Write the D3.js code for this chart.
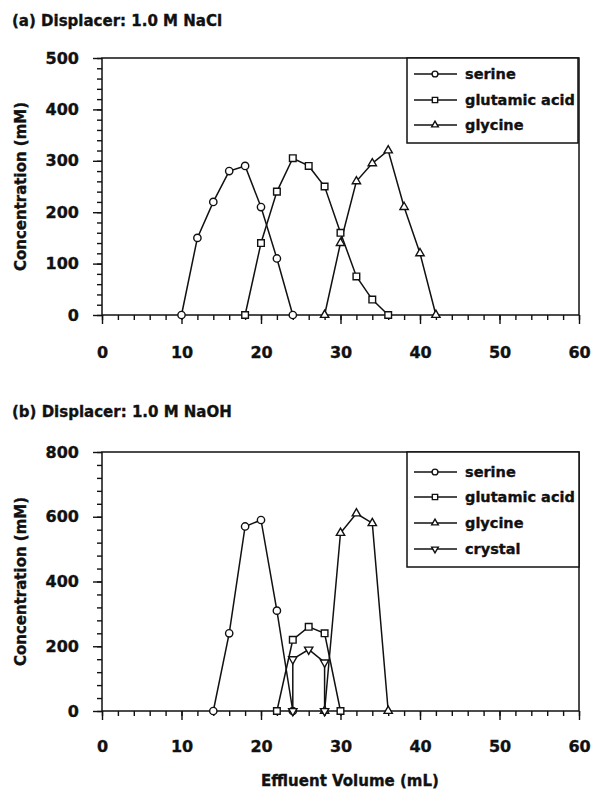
<!DOCTYPE html>
<html>
<head>
<meta charset="utf-8">
<script src="https://cdn.jsdelivr.net/npm/d3@7"></script>
<style>
  body { margin: 0; background: #fff; }
  svg text { font-family: "DejaVu Sans", sans-serif; font-weight: bold; fill: #111; stroke: #111; stroke-width: 0.35px; }
</style>
</head>
<body>
<svg id="chart" width="591" height="789"></svg>
<script>
// Effluent volume ticks (mL)
const volumeTicks = [0, 10, 20, 30, 40, 50, 60];
const concTicksA = [0, 100, 200, 300, 400, 500];
const concTicksB = [0, 200, 400, 600, 800];

// (a) Displacer: 1.0 M NaCl
const serineA_vol = [10, 12, 14, 16, 18, 20, 22, 24];
const serineA_conc = [0, 150, 220, 280, 290, 210, 110, 0];
const glutamicA_vol = [18, 20, 22, 24, 26, 28, 30, 32, 34, 36];
const glutamicA_conc = [0, 140, 240, 305, 290, 250, 160, 75, 30, 0];
const glycineA_vol = [28, 30, 32, 34, 36, 38, 40, 42];
const glycineA_conc = [0, 140, 260, 295, 320, 210, 120, 0];

// (b) Displacer: 1.0 M NaOH
const serineB_vol = [14, 16, 18, 20, 22, 24];
const serineB_conc = [0, 240, 570, 590, 310, 0];
const glutamicB_vol = [22, 24, 26, 28, 30];
const glutamicB_conc = [0, 220, 260, 240, 0];
const glycineB_vol = [28, 30, 32, 34, 36];
const glycineB_conc = [0, 550, 610, 580, 0];
const crystalB_vol = [24, 24, 26, 28, 28];
const crystalB_conc = [0, 160, 190, 150, 0];

const seriesNames = ["serine", "glutamic acid", "glycine", "crystal"];

const svg = d3.select("#chart");
const ink = "#111";

const markerPath = {
  circle: d3.symbol().type(d3.symbolCircle).size(42)(),
  square: d3.symbol().type(d3.symbolSquare).size(44)(),
  triangle: d3.symbol().type(d3.symbolTriangle).size(30)(),
  down: d3.symbol().type(d3.symbolTriangle).size(30)()
};
function drawMarker(g, kind, x, y, scale = 1) {
  g.append("path")
    .attr("d", markerPath[kind])
    .attr("transform", `translate(${x},${y}) scale(${scale})` + (kind === "down" ? " rotate(180)" : ""))
    .attr("fill", "#fff").attr("stroke", ink).attr("stroke-width", 1.4 / scale);
}

const zip = (xs, ys) => xs.map((v, i) => [v, ys[i]]);

const panels = [
  {
    title: "(a) Displacer: 1.0 M NaCl", titleY: 26,
    top: 58, bottom: 315, yMax: 500, yTicks: concTicksA, yMinorStep: 20,
    xLabelY: 358,
    series: [
      { name: seriesNames[0], kind: "circle", pts: zip(serineA_vol, serineA_conc) },
      { name: seriesNames[1], kind: "square", pts: zip(glutamicA_vol, glutamicA_conc) },
      { name: seriesNames[2], kind: "triangle", pts: zip(glycineA_vol, glycineA_conc) }
    ],
    legend: { x: 407, y: 58, w: 171, h: 85, rows: [74, 100, 125] }
  },
  {
    title: "(b) Displacer: 1.0 M NaOH", titleY: 417,
    top: 452, bottom: 711, yMax: 800, yTicks: concTicksB, yMinorStep: 40,
    xLabelY: 752,
    series: [
      { name: seriesNames[0], kind: "circle", pts: zip(serineB_vol, serineB_conc) },
      { name: seriesNames[1], kind: "square", pts: zip(glutamicB_vol, glutamicB_conc) },
      { name: seriesNames[2], kind: "triangle", pts: zip(glycineB_vol, glycineB_conc) },
      { name: seriesNames[3], kind: "down", pts: zip(crystalB_vol, crystalB_conc) }
    ],
    legend: { x: 407, y: 452, w: 172, h: 115, rows: [472, 497, 523, 549] }
  }
];

const left = 102, right = 579;
const x = d3.scaleLinear().domain([0, 60]).range([left, right]);

panels.forEach(p => {
  const y = d3.scaleLinear().domain([0, p.yMax]).range([p.bottom, p.top]);
  const g = svg.append("g");

  // panel title
  g.append("text").attr("x", 12).attr("y", p.titleY)
    .attr("font-size", 15).text(p.title);

  // minor ticks
  const xMinor = d3.axisBottom(x).tickValues(d3.range(0, 61, 2)).tickSize(5).tickFormat("");
  const yMinor = d3.axisLeft(y).tickValues(d3.range(0, p.yMax + 1, p.yMinorStep)).tickSize(5).tickFormat("");
  // major ticks with labels
  const xMajor = d3.axisBottom(x).tickValues(volumeTicks).tickSize(9).tickPadding(0).tickFormat(d3.format("d"));
  const yMajor = d3.axisLeft(y).tickValues(p.yTicks).tickSize(9).tickPadding(14).tickFormat(d3.format("d"));

  [xMinor, xMajor].forEach((ax, i) => {
    const a = g.append("g").attr("transform", `translate(0,${p.bottom})`).call(ax);
    a.select(".domain").remove();
    a.selectAll("line").attr("stroke", ink).attr("stroke-width", 1.4);
    if (i === 1) a.selectAll(".tick text").attr("y", p.xLabelY - p.bottom).attr("dy", null);
  });
  [yMinor, yMajor].forEach(ax => {
    const a = g.append("g").attr("transform", `translate(${left},0)`).call(ax);
    a.select(".domain").remove();
    a.selectAll("line").attr("stroke", ink).attr("stroke-width", 1.4);
  });
  g.selectAll(".tick text").attr("font-size", 16).attr("font-family", null);

  // frame
  g.append("rect").attr("x", left).attr("y", p.top)
    .attr("width", right - left).attr("height", p.bottom - p.top)
    .attr("fill", "none").attr("stroke", ink).attr("stroke-width", 1.5);

  // y-axis title
  g.append("text")
    .attr("transform", `translate(26,${(p.top + p.bottom) / 2}) rotate(-90)`)
    .attr("text-anchor", "middle").attr("font-size", 15)
    .text("Concentration (mM)");

  // series
  const line = d3.line().x(d => x(d[0])).y(d => y(d[1]));
  p.series.forEach(s => {
    g.append("path").attr("d", line(s.pts))
      .attr("fill", "none").attr("stroke", ink).attr("stroke-width", 1.5);
  });
  p.series.forEach(s => {
    s.pts.forEach(d => drawMarker(g, s.kind, x(d[0]), y(d[1])));
  });

  // legend
  const L = p.legend;
  g.append("rect").attr("x", L.x).attr("y", L.y).attr("width", L.w).attr("height", L.h)
    .attr("fill", "#fff").attr("stroke", ink).attr("stroke-width", 1.5);
  p.series.forEach((s, i) => {
    const ry = L.rows[i];
    g.append("line").attr("x1", L.x + 7).attr("x2", L.x + 50)
      .attr("y1", ry).attr("y2", ry).attr("stroke", ink).attr("stroke-width", 1.5);
    drawMarker(g, s.kind, L.x + 28, ry, 0.8);
    g.append("text").attr("x", L.x + 58).attr("y", ry + 5)
      .attr("font-size", 14.5).text(s.name);
  });
});

// shared x-axis title
svg.append("text").attr("x", 350).attr("y", 786)
  .attr("text-anchor", "middle").attr("font-size", 15)
  .text("Effluent Volume (mL)");
</script>
</body>
</html>
